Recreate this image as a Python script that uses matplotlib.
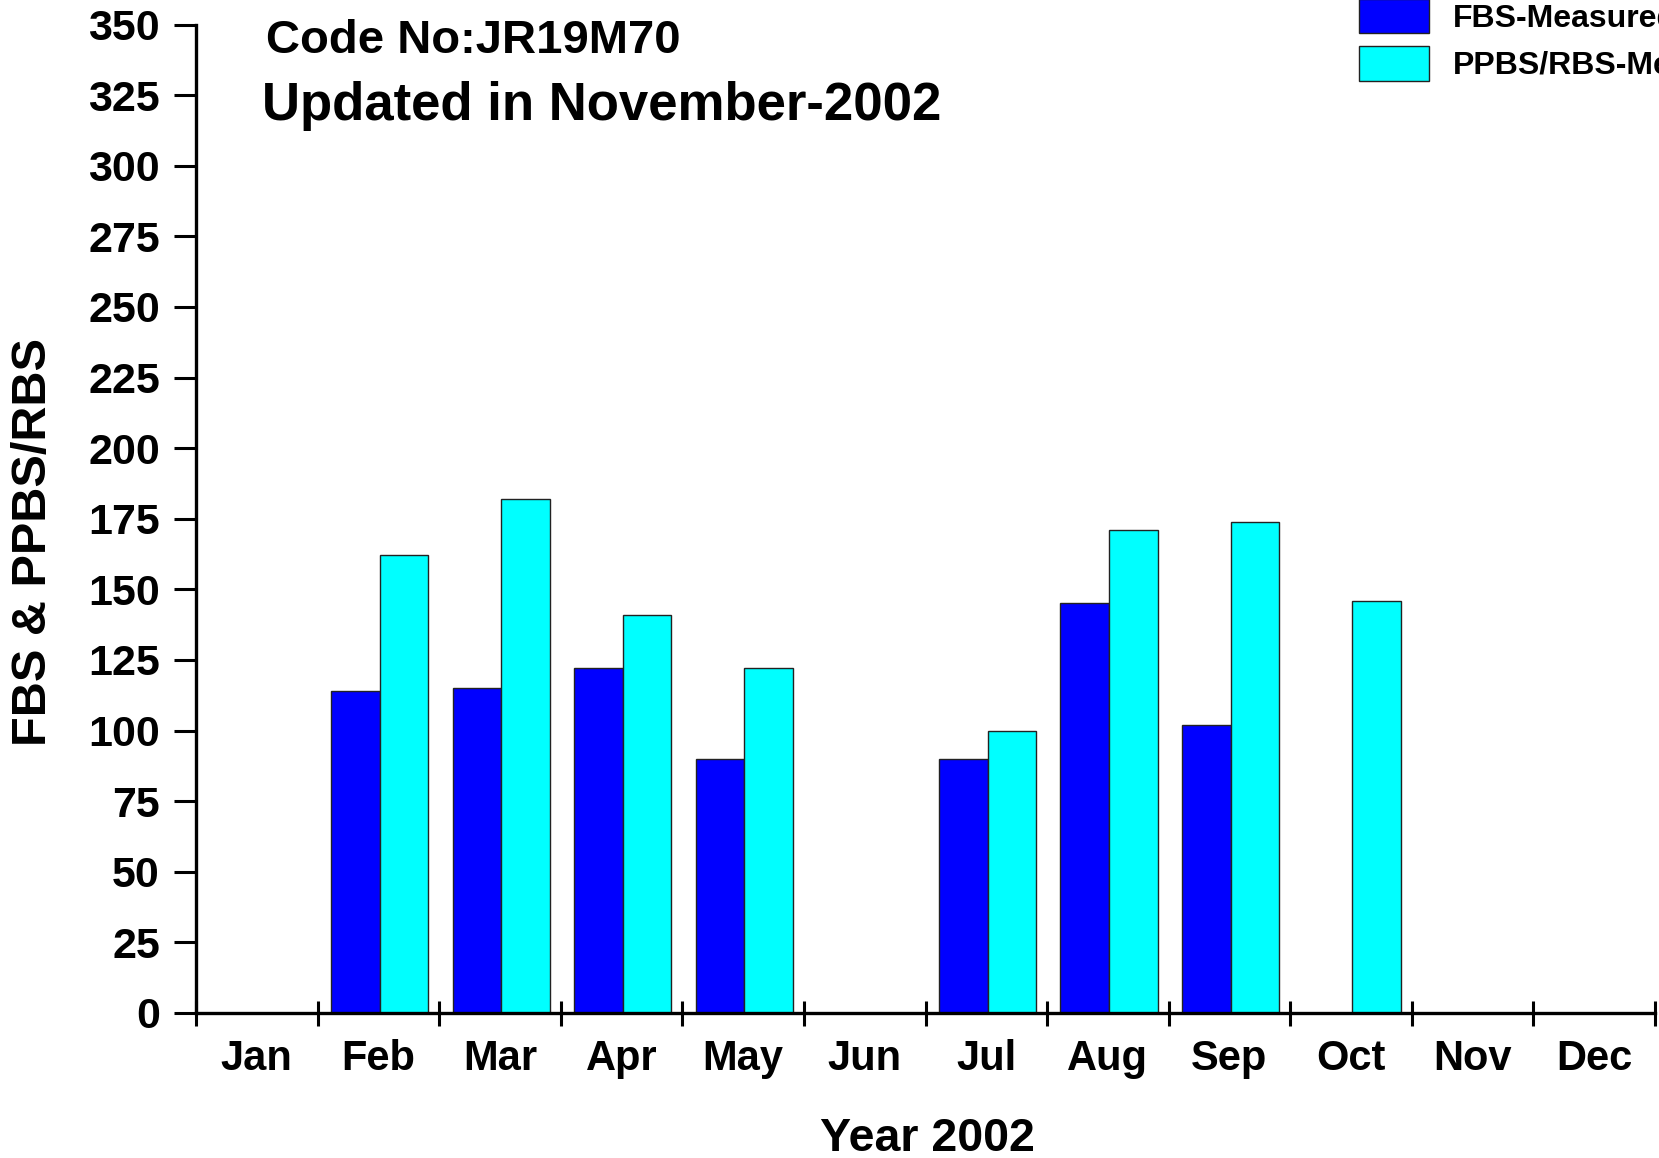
import matplotlib
matplotlib.use("Agg")
import matplotlib.pyplot as plt
from matplotlib.patches import Patch
import numpy as np

# data (mg/dl)
months = ['Jan', 'Feb', 'Mar', 'Apr', 'May', 'Jun', 'Jul', 'Aug', 'Sep', 'Oct', 'Nov', 'Dec']
fbs = [0, 114, 115, 122, 90, 0, 90, 145, 102, 0, 0, 0]
ppbs = [0, 162, 182, 141, 122, 0, 100, 171, 174, 146, 0, 0]
y_ticks = [0, 25, 50, 75, 100, 125, 150, 175, 200, 225, 250, 275, 300, 325, 350]

plt.rcParams['font.family'] = ['Liberation Sans', 'DejaVu Sans']
plt.rcParams['font.weight'] = 'bold'

W, H = 1659, 1158
fig = plt.figure(figsize=(W / 100, H / 100), dpi=100)
ax = fig.add_axes([196 / W, 1 - 1013 / H, (1655 - 196) / W, (1013 - 24.5) / H])

x = np.arange(len(months))
bw = 0.4
ax.bar(x + 0.11, fbs, width=bw, align='edge', color='#0000ff', edgecolor='#222222', linewidth=1)
ax.bar(x + 0.11 + bw, ppbs, width=bw, align='edge', color='#00ffff', edgecolor='#222222', linewidth=1)

ax.set_xlim(0, 12)
ax.set_ylim(0, 350)
ax.set_yticks(y_ticks)
ax.set_yticklabels([str(v) for v in y_ticks], fontsize=31, fontweight='bold')

# month boundaries as major ticks, labels centered on minor ticks
ax.set_xticks(np.arange(0, 13))
ax.set_xticklabels([])
ax.set_xticks(x + 0.5, minor=True)
ax.set_xticklabels(months, minor=True, fontsize=30, fontweight='bold')
ax.tick_params(axis='x', which='major', direction='inout', length=18, width=2.2)
ax.tick_params(axis='x', which='minor', length=0, pad=19)
ax.tick_params(axis='y', which='major', direction='out', length=16, width=2.2, pad=10)

for s in ['top', 'right']:
    ax.spines[s].set_visible(False)
for s in ['left', 'bottom']:
    ax.spines[s].set_linewidth(2.4)

fig.text(927 / W, 1 - 1151 / H, 'Year 2002', ha='center', va='baseline', fontsize=33.5, fontweight='bold')
fig.text(34 / W, 1 - 542 / H, 'FBS & PPBS/RBS', ha='center', va='center', rotation=90,
         fontsize=35, fontweight='bold')

fig.text(266 / W, 1 - 53 / H, 'Code No:JR19M70', ha='left', va='baseline', fontsize=34, fontweight='bold')
fig.text(262 / W, 1 - 120 / H, 'Updated in November-2002', ha='left', va='baseline', fontsize=38,
         fontweight='bold')

# legend runs off the right edge, as in the original export
handles = [Patch(facecolor='#0000ff', edgecolor='#222222', label='FBS-Measured'),
           Patch(facecolor='#00ffff', edgecolor='#222222', label='PPBS/RBS-Measured')]
fig.legend(handles=handles, loc='upper left', bbox_to_anchor=(1349 / W, 1 + 11 / H),
           frameon=False, handlelength=2.2, handleheight=1.3,
           handletextpad=0.75, labelspacing=0.38, borderaxespad=0, borderpad=0.3,
           prop={'weight': 'bold', 'size': 23})

fig.savefig('out.png', dpi=100)
